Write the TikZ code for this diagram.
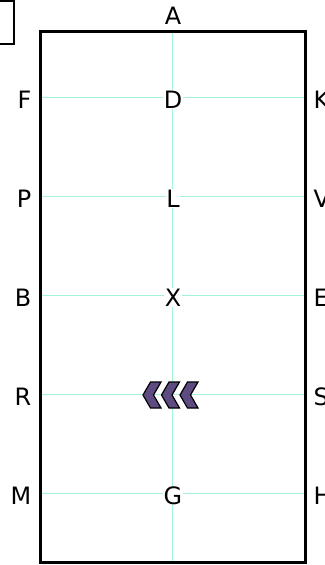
\documentclass[tikz,border=0pt]{standalone}
\usepackage{fontspec}
\setmainfont{DejaVu Sans}
\usepackage{xcolor}
\usetikzlibrary{positioning}

\definecolor{guidegreen}{HTML}{A2F4D4}
\definecolor{chevpurple}{HTML}{5E4B82}

\begin{document}
\begin{tikzpicture}[
  x=1bp, y=-1bp,
  arena/.style={draw, line width=3bp, minimum width=264bp, minimum height=530bp, inner sep=0pt},
  letter/.style={font=\fontsize{24}{24}\selectfont, inner sep=0pt},
  midletter/.style={letter, fill=white, inner sep=0.5pt},
  guide/.style={draw=guidegreen, line width=1.25bp},
  chevron/.style={fill=chevpurple, draw=black, line width=1.2bp, line join=miter},
]
\useasboundingbox (0,0) rectangle (324,565);

% the box cut off in the corner
\node[draw, line width=1.6bp, minimum width=30bp, minimum height=43bp] (corner) at (-1,22.5) {};

% arena and its guide lines
\coordinate (dline) at (173,97.5);
\coordinate (lline) at (173,196.5);
\coordinate (xline) at (173,295.5);
\coordinate (rline) at (173,394.5);
\coordinate (gline) at (173,493.5);

\draw[guide] (41,0 |- dline) -- (305,0 |- dline);
\draw[guide] (41,0 |- lline) -- (305,0 |- lline);
\draw[guide] (41,0 |- xline) -- (305,0 |- xline);
\draw[guide] (41,0 |- rline) -- (305,0 |- rline);
\draw[guide] (41,0 |- gline) -- (305,0 |- gline);
\draw[guide] (172.5,32) -- (172.5,562);

\node[arena] (ring) at (173,297) {};

% letters on the centre line
\node[letter, above=6bp of ring.north] (A) {A};
\node[midletter] (D) at ([yshift=-2bp]dline) {D};
\node[midletter] (L) at ([yshift=-2bp]lline) {L};
\node[midletter] (X) at ([yshift=-2bp]xline) {X};
\node[midletter] (G) at ([yshift=-2bp]gline) {G};

% letters on the long sides
\node[letter, anchor=east] (F) at ([xshift=-8bp]ring.west |- D) {F};
\node[letter, anchor=east] (P) at ([xshift=-8bp]ring.west |- L) {P};
\node[letter, anchor=east] (B) at ([xshift=-8bp]ring.west |- X) {B};
\node[letter, anchor=east] (R) at ([xshift=-8bp,yshift=-2bp]ring.west |- rline) {R};
\node[letter, anchor=east] (M) at ([xshift=-8bp]ring.west |- G) {M};

\node[letter, anchor=west] (K) at ([xshift=7bp]ring.east |- D) {K};
\node[letter, anchor=west] (V) at ([xshift=7bp]ring.east |- L) {V};
\node[letter, anchor=west] (E) at ([xshift=7bp]ring.east |- X) {E};
\node[letter, anchor=west] (S) at ([xshift=7bp,yshift=-2bp]ring.east |- rline) {S};
\node[letter, anchor=west] (H) at ([xshift=7bp]ring.east |- G) {H};

% chevrons
\coordinate (tipa) at (143,395);
\coordinate (tipb) at (161.5,395);
\coordinate (tipc) at (180,395);
\draw[chevron] (tipa) -- ++(7.5,-13) -- ++(10.5,0) -- ++(-7.5,13) -- ++(7.5,13) -- ++(-10.5,0) -- cycle;
\draw[chevron] (tipb) -- ++(7.5,-13) -- ++(10.5,0) -- ++(-7.5,13) -- ++(7.5,13) -- ++(-10.5,0) -- cycle;
\draw[chevron] (tipc) -- ++(7.5,-13) -- ++(10.5,0) -- ++(-7.5,13) -- ++(7.5,13) -- ++(-10.5,0) -- cycle;
\end{tikzpicture}
\end{document}
